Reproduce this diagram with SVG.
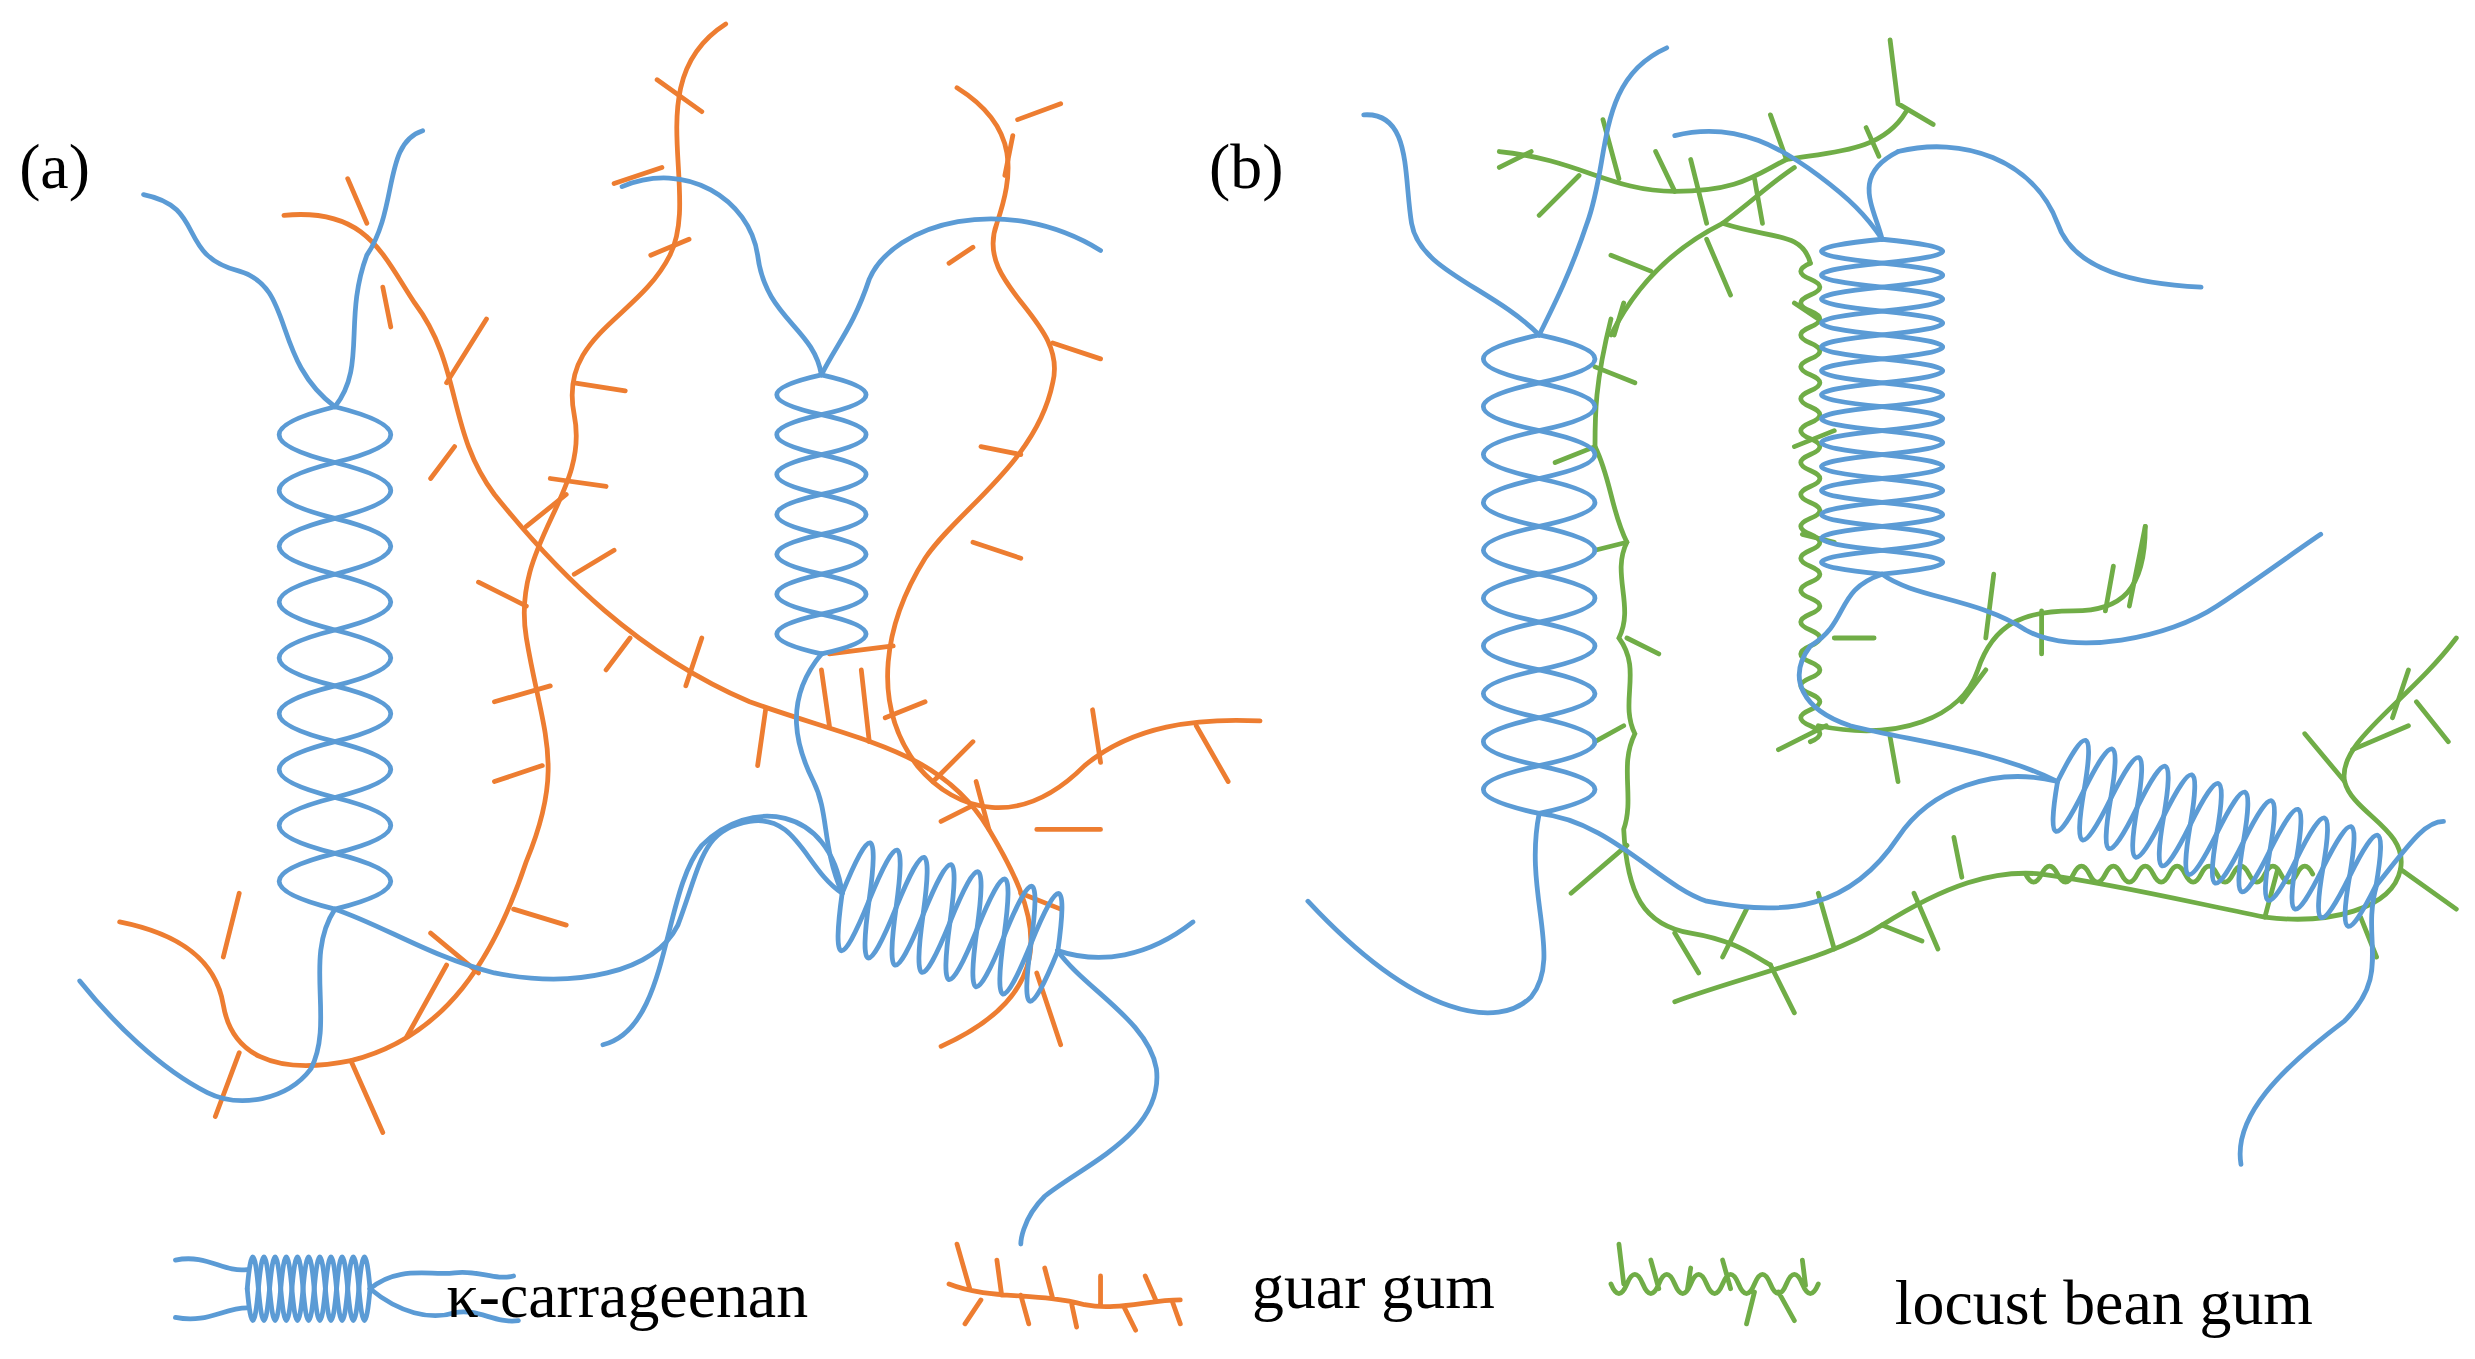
<svg xmlns="http://www.w3.org/2000/svg" width="2475" height="1359" viewBox="0 0 2475 1359">
<style>
.b{fill:none;stroke:#5B9BD5;stroke-width:3;stroke-linecap:round}
.o{fill:none;stroke:#ED7D31;stroke-width:3;stroke-linecap:round}
.g{fill:none;stroke:#70AD47;stroke-width:3;stroke-linecap:round}
text{font-family:"Liberation Serif",serif;fill:#000}
</style>
<rect width="2475" height="1359" fill="#fff"/>
<g transform="scale(1.595)">
<g id="label-a"><text x="12" y="118" font-size="40">(a)</text></g>
<g id="label-b"><text x="758" y="118" font-size="40">(b)</text></g>

<g id="panel-a-orange">
<path class="o" d="M455,15 C400,50 440,120 420,160 C400,200 350,210 360,260 C370,310 320,340 330,400 C340,460 355,480 330,540 C310,600 280,650 220,665 C170,675 145,660 140,630 C135,600 110,585 75,578"/>
<path class="o" d="M178,135 C230,130 240,160 260,190 C290,230 280,270 310,310 C350,360 400,410 470,440 C540,465 590,470 620,520 C650,570 670,620 590,656"/>
<path class="o" d="M600,55 C640,80 635,110 625,140 C610,180 670,200 660,240 C650,290 600,320 580,350 C555,390 545,440 575,480 C600,510 640,520 680,480 C710,455 750,450 790,452"/>
<path class="o" d="M412,50 L440,70 M415,105 L385,115 M432,150 L408,160 M360,240 L392,245 M345,300 L380,305 M330,380 L300,365 M345,430 L310,440 M340,480 L310,490 M322,570 L355,580 M300,610 L270,585 M255,650 L280,605 M150,660 L135,700 M140,600 L150,560 M220,665 L240,710 M230,140 L218,112 M240,180 L245,205 M280,240 L305,200 M285,280 L270,300 M330,330 L355,310 M360,360 L385,345 M395,400 L380,420 M430,430 L440,400 M480,445 L475,480 M520,455 L515,420 M545,465 L540,420 M585,490 L610,465 M620,520 L612,490 M640,560 L665,570 M650,610 L665,655 M638,75 L665,65 M635,85 L630,110 M610,155 L595,165 M660,215 L690,225 M640,285 L615,280 M610,340 L640,350 M560,405 L520,410 M555,450 L580,440 M610,505 L590,515 M650,520 L690,520 M690,478 L685,445 M750,455 L770,490"/>
</g>

<g id="panel-a-blue">
<path class="b" d="M90,122 C130,130 110,160 150,170 C185,180 170,225 210,255"/>
<path class="b" d="M265,82 C240,90 250,130 230,160 C215,200 230,230 210,255"/>
<path class="b" d="M210,255 q70,17.5 0,35 t0,35 t0,35 t0,35 t0,35 t0,35 t0,35 t0,35 t0,35"/>
<path class="b" d="M210,255 q-70,17.5 0,35 t0,35 t0,35 t0,35 t0,35 t0,35 t0,35 t0,35 t0,35"/>
<path class="b" d="M210,570 C240,580 270,600 310,610 C360,620 410,610 425,580 C440,540 440,520 470,515 C500,510 505,545 528,560"/>
<path class="b" d="M210,570 C190,600 210,640 195,670 C180,690 150,695 130,685 C100,670 70,640 50,615"/>
<path class="b" d="M390,117 C430,100 470,125 475,160 C480,200 510,205 515,235"/>
<path class="b" d="M690,157 C630,120 560,140 545,175 C535,205 525,215 515,235"/>
<path class="b" d="M515,235 q56,12.5 0,25 t0,25 t0,25 t0,25 t0,25 t0,25 t0,25"/>
<path class="b" d="M515,235 q-56,12.5 0,25 t0,25 t0,25 t0,25 t0,25 t0,25 t0,25"/>
<path class="b" d="M515,410 C490,440 500,470 510,490 C520,510 515,530 528,560"/>
<path class="b" d="M378,655 C420,645 415,560 440,530 C470,500 520,505 528,560"/>
<g transform="translate(528,560) rotate(15)">
<path class="b" d="M0,0 q8.75,-70 17.5,0 t17.5,0 t17.5,0 t17.5,0 t17.5,0 t17.5,0 t17.5,0 t17.5,0"/>
<path class="b" d="M0,0 q8.75,70 17.5,0 t17.5,0 t17.5,0 t17.5,0 t17.5,0 t17.5,0 t17.5,0 t17.5,0"/>
</g>
<path class="b" d="M663,596 C690,605 720,600 748,578"/>
<path class="b" d="M663,596 C680,620 720,640 725,670 C730,710 680,730 655,750 C640,765 640,780 640,780"/>
</g>

<g id="panel-b-green">
<path class="g" d="M940,95 C990,100 1010,120 1050,120 C1090,120 1100,110 1120,100 C1150,95 1180,95 1195,70"/>
<path class="g" d="M1010,210 C1030,170 1060,150 1080,140 C1100,125 1110,115 1125,105"/>
<path class="g" d="M1080,140 C1110,150 1130,145 1135,165"/>
<path class="g" d="M1135,165 q-12,5 0,10 t0,10 t0,10 t0,10 t0,10 t0,10 t0,10 t0,10 t0,10 t0,10 t0,10 t0,10 t0,10 t0,10 t0,10 t0,10 t0,10 t0,10 t0,10 t0,10 t0,10 t0,10 t0,10 t0,10 t0,10 t0,10 t0,10 t0,10 t0,10 t0,10"/>
<path class="g" d="M1010,200 C1000,240 1000,260 1000,280 C1010,300 1010,320 1020,340 C1010,360 1025,380 1015,400 C1030,420 1015,440 1025,460 C1015,480 1025,500 1018,520 C1020,560 1030,580 1060,585 C1090,590 1100,600 1110,605"/>
<path class="g" d="M1050,628 C1100,610 1150,600 1180,580 C1220,555 1250,545 1280,548 C1330,555 1370,565 1420,575 C1460,580 1500,570 1505,545 C1510,520 1475,510 1470,490 C1465,465 1510,440 1540,400"/>
<path class="g" d="M1270,548 q5,10 10,0 t10,0 t10,0 t10,0 t10,0 t10,0 t10,0 t10,0 t10,0 t10,0 t10,0 t10,0 t10,0 t10,0 t10,0 t10,0 t10,0 t10,0"/>
<path class="g" d="M1140,455 C1190,465 1230,450 1240,420 C1250,390 1270,383 1300,383 C1330,383 1345,370 1345,330"/>
<path class="g" d="M1185,25 L1190,65 L1212,78 M1170,80 L1178,98 M1120,100 L1110,72 M1100,112 L1105,140 M1050,120 L1038,95 M1015,112 L1005,75 M990,110 L965,135 M960,95 L940,105 M1070,140 L1060,100 M1070,150 L1085,185 M1035,170 L1010,160 M1018,190 L1012,210 M1000,230 L1025,240 M1000,280 L975,290 M1020,340 L1000,345 M1020,400 L1040,410 M1018,455 L1000,465 M1020,530 L985,560 M1050,585 L1065,610 M1080,600 L1095,570 M1110,605 L1125,635 M1150,595 L1140,560 M1180,580 L1205,590 M1200,560 L1215,595 M1230,550 L1225,525 M1470,490 L1445,460 M1475,470 L1510,455 M1500,450 L1510,420 M1515,440 L1535,465 M1505,545 L1540,570 M1480,575 L1490,600 M1420,575 L1428,545 M1145,455 L1115,470 M1185,462 L1190,490 M1230,440 L1245,420 M1245,400 L1250,360 M1280,383 L1280,410 M1320,383 L1325,355 M1345,330 L1335,380 M1175,400 L1150,400 M1150,340 L1130,335 M1150,270 L1125,280 M1140,200 L1125,190"/>
</g>

<g id="panel-b-blue">
<path class="b" d="M855,72 C885,70 880,110 885,140 C890,170 935,180 965,210"/>
<path class="b" d="M1045,30 C1000,50 1010,100 995,140 C985,170 975,190 965,210"/>
<path class="b" d="M965,210 q70,15 0,30 t0,30 t0,30 t0,30 t0,30 t0,30 t0,30 t0,30 t0,30 t0,30"/>
<path class="b" d="M965,210 q-70,15 0,30 t0,30 t0,30 t0,30 t0,30 t0,30 t0,30 t0,30 t0,30 t0,30"/>
<path class="b" d="M965,510 C955,560 980,600 960,625 C940,645 890,640 820,565"/>
<path class="b" d="M965,510 C1010,515 1040,555 1070,565 C1120,575 1160,570 1190,525 C1210,495 1250,480 1290,490"/>
<g transform="translate(1290,490) rotate(18)">
<path class="b" d="M0,0 q8.75,-60 17.5,0 t17.5,0 t17.5,0 t17.5,0 t17.5,0 t17.5,0 t17.5,0 t17.5,0 t17.5,0 t17.5,0 t17.5,0 t17.5,0"/>
<path class="b" d="M0,0 q8.75,60 17.5,0 t17.5,0 t17.5,0 t17.5,0 t17.5,0 t17.5,0 t17.5,0 t17.5,0 t17.5,0 t17.5,0 t17.5,0 t17.5,0"/>
</g>
<path class="b" d="M1490,555 C1510,530 1520,515 1532,515"/>
<path class="b" d="M1490,555 C1480,590 1500,610 1470,640 C1430,670 1400,700 1405,730"/>
<path class="b" d="M1050,85 C1090,75 1120,95 1140,110 C1160,125 1170,135 1180,150"/>
<path class="b" d="M1190,95 C1230,85 1275,100 1290,140 C1300,170 1340,178 1380,180"/>
<path class="b" d="M1190,95 C1160,110 1175,130 1180,150"/>
<path class="b" d="M1180,150 q76,7.5 0,15 t0,15 t0,15 t0,15 t0,15 t0,15 t0,15 t0,15 t0,15 t0,15 t0,15 t0,15 t0,15 t0,15"/>
<path class="b" d="M1180,150 q-76,7.5 0,15 t0,15 t0,15 t0,15 t0,15 t0,15 t0,15 t0,15 t0,15 t0,15 t0,15 t0,15 t0,15 t0,15"/>
<path class="b" d="M1180,360 C1200,375 1240,375 1270,395 C1300,412 1360,400 1390,380 C1420,360 1440,345 1455,335"/>
<path class="b" d="M1180,360 C1150,370 1160,390 1135,405 C1120,425 1130,445 1160,455 C1200,465 1250,470 1290,490"/>
</g>

<g id="legend">
<g transform="translate(110,808)">
<path class="b" d="M0,-18 C20,-22 30,-10 45,-12"/>
<path class="b" d="M0,18 C20,22 30,12 45,12"/>
<path class="b" d="M45,0 q3.5,-40 7,0 t7,0 t7,0 t7,0 t7,0 t7,0 t7,0 t7,0 t7,0 t7,0 t7,0"/>
<path class="b" d="M45,0 q3.5,40 7,0 t7,0 t7,0 t7,0 t7,0 t7,0 t7,0 t7,0 t7,0 t7,0 t7,0"/>
<path class="b" d="M122,0 C140,-15 160,-8 175,-10 C190,-12 200,-5 212,-8"/>
<path class="b" d="M122,0 C140,15 160,20 175,15 C190,12 200,22 215,20"/>
</g>
<text x="280" y="826" font-size="40">κ-carrageenan</text>
<path class="o" d="M595,805 C620,815 650,810 680,818 C700,822 720,815 740,815 M600,780 L608,808 M615,815 L605,830 M625,790 L628,812 M640,812 L645,830 M655,795 L660,814 M672,818 L675,832 M690,800 L690,818 M705,820 L712,834 M718,800 L725,816 M735,816 L740,830"/>
<text x="785" y="820" font-size="40">guar gum</text>
<path class="g" d="M1010,805 q5,12 10,0 t10,0 t10,0 t10,0 t10,0 t10,0 t10,0 t10,0 t10,0 t10,0 t10,0 t10,0 t10,0 M1015,780 L1018,805 M1035,790 L1040,808 M1060,795 L1058,808 M1080,790 L1085,808 M1100,810 L1095,830 M1115,810 L1125,828 M1130,790 L1132,806"/>
<text x="1188" y="830" font-size="40">locust bean gum</text>
</g>
</g>
</svg>
